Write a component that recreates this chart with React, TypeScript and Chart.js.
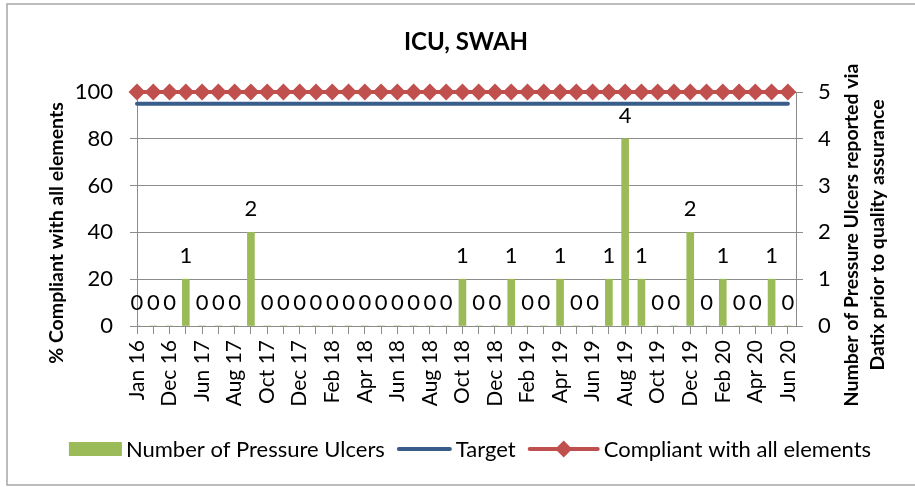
import React, { useEffect, useRef } from "react";
import { Chart, registerables } from "chart.js";

Chart.register(...registerables);

const categories = [
  "Jan 16", "Jun 16", "Dec 16", "Mar 17", "Jun 17", "Jul 17", "Aug 17", "Sep 17", "Oct 17", "Nov 17",
  "Dec 17", "Jan 18", "Feb 18", "Mar 18", "Apr 18", "May 18", "Jun 18", "Jul 18", "Aug 18", "Sep 18",
  "Oct 18", "Nov 18", "Dec 18", "Jan 19", "Feb 19", "Mar 19", "Apr 19", "May 19", "Jun 19", "Jul 19",
  "Aug 19", "Sep 19", "Oct 19", "Nov 19", "Dec 19", "Jan 20", "Feb 20", "Mar 20", "Apr 20", "May 20",
  "Jun 20",
];

const pressureUlcers = [
  0, 0, 0, 1, 0, 0, 0, 2, 0, 0,
  0, 0, 0, 0, 0, 0, 0, 0, 0, 0,
  1, 0, 0, 1, 0, 0, 1, 0, 0, 1,
  4, 1, 0, 0, 2, 0, 1, 0, 0, 1,
  0,
];

const target = [
  95, 95, 95, 95, 95, 95, 95, 95, 95, 95,
  95, 95, 95, 95, 95, 95, 95, 95, 95, 95,
  95, 95, 95, 95, 95, 95, 95, 95, 95, 95,
  95, 95, 95, 95, 95, 95, 95, 95, 95, 95,
  95,
];

const compliant = [
  100, 100, 100, 100, 100, 100, 100, 100, 100, 100,
  100, 100, 100, 100, 100, 100, 100, 100, 100, 100,
  100, 100, 100, 100, 100, 100, 100, 100, 100, 100,
  100, 100, 100, 100, 100, 100, 100, 100, 100, 100,
  100,
];

const leftTickValues = [0, 20, 40, 60, 80, 100];

const chartTitle = "ICU, SWAH";
const leftAxisTitle = "% Compliant with all elements";
const rightAxisTitle = ["Number of Pressure Ulcers reported via", "Datix prior to quality assurance"];
const legendLabels = ["Number of Pressure Ulcers", "Target", "Compliant with all elements"];

const FONT = "Lato, 'Noto Sans', sans-serif";
const GREEN = "#9BBB59";
const BLUE = "#385D8A";
const RED = "#C0504D";
const GRID = "#8C8C8C";

function diamond(ctx: CanvasRenderingContext2D, x: number, y: number, r: number) {
  ctx.beginPath();
  ctx.moveTo(x, y - r);
  ctx.lineTo(x + r, y);
  ctx.lineTo(x, y + r);
  ctx.lineTo(x - r, y);
  ctx.closePath();
  ctx.fill();
}

const decorPlugin = {
  id: "decor",
  beforeDraw(chart: any) {
    const ctx = chart.ctx as CanvasRenderingContext2D;
    ctx.save();
    ctx.fillStyle = "#ffffff";
    ctx.fillRect(0, 0, chart.width, chart.height);
    ctx.strokeStyle = "#A6A6A6";
    ctx.lineWidth = 1.5;
    ctx.strokeRect(7, 4, chart.width, chart.height - 6);
    ctx.restore();
  },
  afterDatasetsDraw(chart: any) {
    const ctx = chart.ctx as CanvasRenderingContext2D;
    const meta = chart.getDatasetMeta(0);
    ctx.save();
    ctx.fillStyle = "#000";
    ctx.font = `22px ${FONT}`;
    ctx.textAlign = "center";
    ctx.textBaseline = "alphabetic";
    meta.data.forEach((el: any, i: number) => {
      ctx.fillText(String(pressureUlcers[i]), el.x, el.y - 16);
    });
    ctx.restore();
  },
  afterDraw(chart: any) {
    const ctx = chart.ctx as CanvasRenderingContext2D;
    ctx.save();
    ctx.fillStyle = "#000";

    // left tick labels
    const ys = chart.scales.y;
    ctx.font = `22px ${FONT}`;
    ctx.textAlign = "right";
    ctx.textBaseline = "middle";
    leftTickValues.forEach((v) => {
      ctx.fillText(String(v), chart.chartArea.left - 24, ys.getPixelForValue(v));
    });

    // title
    ctx.font = `bold 24px ${FONT}`;
    ctx.textAlign = "center";
    ctx.textBaseline = "middle";
    ctx.fillText(chartTitle, 466, 42);

    // left axis title
    ctx.font = `bold 19.5px ${FONT}`;
    ctx.save();
    ctx.translate(57, 233);
    ctx.rotate(-Math.PI / 2);
    ctx.fillText(leftAxisTitle, 0, 0);
    ctx.restore();

    // right axis title
    ctx.save();
    ctx.translate(852, 235);
    ctx.rotate(-Math.PI / 2);
    ctx.fillText(rightAxisTitle[0], 0, 0);
    ctx.fillText(rightAxisTitle[1], 0, 26);
    ctx.restore();

    // legend
    ctx.font = `22px ${FONT}`;
    ctx.textAlign = "left";
    const symW = [53, 55, 72];
    const gapSymText = 4;
    const gapItems = 12;
    const widths = legendLabels.map((t) => ctx.measureText(t).width);
    let total = 0;
    for (let i = 0; i < 3; i++) total += symW[i] + gapSymText + widths[i];
    total += gapItems * 2;
    let x = 470 - total / 2;
    const y = 449;
    for (let i = 0; i < 3; i++) {
      if (i === 0) {
        ctx.fillStyle = GREEN;
        ctx.fillRect(x, y - 7, symW[0], 14);
      } else {
        ctx.strokeStyle = i === 1 ? BLUE : RED;
        ctx.lineWidth = 4;
        ctx.lineCap = "round";
        ctx.beginPath();
        ctx.moveTo(x + 2, y);
        ctx.lineTo(x + symW[i] - 2, y);
        ctx.stroke();
        if (i === 2) {
          ctx.fillStyle = RED;
          diamond(ctx, x + symW[i] / 2, y, 8.5);
        }
      }
      x += symW[i] + gapSymText;
      ctx.fillStyle = "#000";
      ctx.fillText(legendLabels[i], x, y + 1);
      x += widths[i] + gapItems;
    }
    ctx.restore();
  },
};

export default function App() {
  const canvasRef = useRef<HTMLCanvasElement | null>(null);

  useEffect(() => {
    const canvas = canvasRef.current;
    if (!canvas) return;
    const chart = new Chart(canvas, {
      type: "bar",
      data: {
        datasets: [
          {
            type: "bar",
            label: legendLabels[0],
            data: pressureUlcers.map((v, i) => ({ x: i, y: v })),
            backgroundColor: GREEN,
            barThickness: 7,
            yAxisID: "y1",
            order: 3,
          },
          {
            type: "line",
            label: legendLabels[1],
            data: target.map((v, i) => ({ x: i, y: v })),
            borderColor: BLUE,
            borderWidth: 4,
            pointRadius: 0,
            borderCapStyle: "round",
            yAxisID: "y",
            order: 2,
            clip: false,
          },
          {
            type: "line",
            label: legendLabels[2],
            data: compliant.map((v, i) => ({ x: i, y: v })),
            borderColor: RED,
            backgroundColor: RED,
            borderWidth: 4,
            pointStyle: "rectRot",
            pointRadius: 8.5,
            pointBorderWidth: 0,
            pointBackgroundColor: RED,
            yAxisID: "y",
            order: 1,
            clip: false,
          },
        ] as any,
      },
      options: {
        animation: false,
        responsive: false,
        devicePixelRatio: 1,
        layout: { padding: { top: 92, left: 0, right: 0, bottom: 0 } },
        plugins: {
          legend: { display: false },
          title: { display: false },
          tooltip: { enabled: false },
        },
        scales: {
          x: {
            type: "linear",
            offset: false,
            min: 0,
            max: 40.5,
            afterFit: (s: any) => {
              s.height = 161;
            },
            ticks: {
              stepSize: 1,
              includeBounds: false,
              autoSkip: false,
              minRotation: 90,
              maxRotation: 90,
              padding: 6,
              color: "#000",
              font: { family: FONT, size: 21 },
              callback: (v: any) => {
                const i = Math.round(Number(v));
                return Math.abs(Number(v) - i) < 1e-6 && i % 2 === 0 ? categories[i] : "";
              },
            },
            grid: { offset: false, drawOnChartArea: false, drawTicks: true, tickLength: 8, color: GRID },
            border: { display: true, color: GRID, width: 1 },
          },
          y: {
            type: "linear",
            position: "left",
            min: 0,
            max: 100,
            afterFit: (s: any) => {
              s.width = 137;
            },
            ticks: {
              stepSize: 20,
              display: false,
            },
            grid: { drawOnChartArea: true, drawTicks: true, tickLength: 7, color: GRID },
            border: { display: true, color: GRID, width: 1 },
          },
          y1: {
            type: "linear",
            position: "right",
            min: 0,
            max: 5,
            afterFit: (s: any) => {
              s.width = 119;
            },
            ticks: {
              stepSize: 1,
              padding: 15,
              color: "#000",
              font: { family: FONT, size: 22 },
            },
            grid: { drawOnChartArea: false, drawTicks: true, tickLength: 7, color: GRID },
            border: { display: true, color: GRID, width: 1 },
          },
        },
      } as any,
      plugins: [decorPlugin as any],
    });
    return () => chart.destroy();
  }, []);

  return (
    <div
      style={{
        position: "fixed",
        left: 0,
        top: 0,
        width: 915,
        height: 487,
        overflow: "hidden",
        background: "#fff",
      }}
    >
      <canvas ref={canvasRef} width={915} height={487} style={{ display: "block" }} />
    </div>
  );
}
